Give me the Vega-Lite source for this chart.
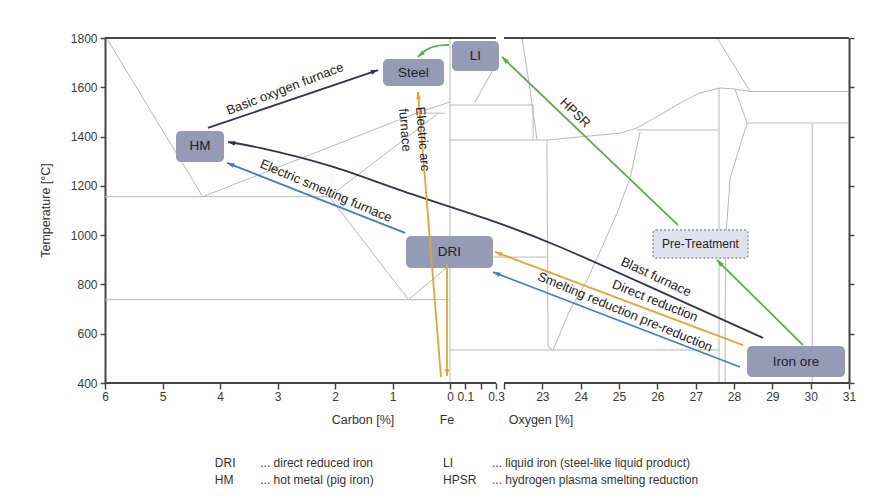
{
  "$schema": "https://vega.github.io/schema/vega-lite/v6.json",
  "width": 744,
  "height": 345,
  "autosize": "none",
  "padding": {"left": 105, "top": 38, "right": 33, "bottom": 115},
  "background": "white",
  "config": {
    "view": {"stroke": null},
    "font": "Liberation Sans",
    "text": {"font": "Liberation Sans"}
  },
  "datasets": {
    "phase": [
      {"id": "p1", "o": 0, "x": -5.96, "T": 1795}, {"id": "p1", "o": 1, "x": -4.3, "T": 1156},
      {"id": "p2", "o": 0, "x": -6, "T": 1156}, {"id": "p2", "o": 1, "x": -2.1, "T": 1156},
      {"id": "p3", "o": 0, "x": -4.3, "T": 1156}, {"id": "p3", "o": 1, "x": -0.53, "T": 1500}, {"id": "p3", "o": 2, "x": 0, "T": 1540},
      {"id": "p4", "o": 0, "x": -2.1, "T": 1156}, {"id": "p4", "o": 1, "x": -0.2, "T": 1495},
      {"id": "p5", "o": 0, "x": -0.53, "T": 1495}, {"id": "p5", "o": 1, "x": -0.09, "T": 1495},
      {"id": "p6", "o": 0, "x": -2.1, "T": 1156}, {"id": "p6", "o": 1, "x": -0.72, "T": 738},
      {"id": "p7", "o": 0, "x": -0.72, "T": 738}, {"id": "p7", "o": 1, "x": 0, "T": 880},
      {"id": "p8", "o": 0, "x": -6, "T": 738}, {"id": "p8", "o": 1, "x": -0.02, "T": 738},
      {"id": "p9", "o": 0, "x": 0, "T": 400}, {"id": "p9", "o": 1, "x": 0, "T": 1800},
      {"id": "q1", "o": 0, "x": 0, "T": 911}, {"id": "q1", "o": 1, "x": 2.12, "T": 911},
      {"id": "q2", "o": 0, "x": 0, "T": 534}, {"id": "q2", "o": 1, "x": 6.63, "T": 534},
      {"id": "q3", "o": 0, "x": 2.12, "T": 1386}, {"id": "q3", "o": 1, "x": 2.15, "T": 546}, {"id": "q3", "o": 2, "x": 2.28, "T": 534},
      {"id": "q4", "o": 0, "x": 2.28, "T": 534}, {"id": "q4", "o": 1, "x": 2.72, "T": 696}, {"id": "q4", "o": 2, "x": 3.17, "T": 818}, {"id": "q4", "o": 3, "x": 3.58, "T": 960}, {"id": "q4", "o": 4, "x": 3.95, "T": 1090}, {"id": "q4", "o": 5, "x": 4.29, "T": 1232}, {"id": "q4", "o": 6, "x": 4.55, "T": 1419},
      {"id": "q5", "o": 0, "x": 0, "T": 1386}, {"id": "q5", "o": 1, "x": 2.12, "T": 1386}, {"id": "q5", "o": 2, "x": 4.03, "T": 1414}, {"id": "q5", "o": 3, "x": 4.47, "T": 1435}, {"id": "q5", "o": 4, "x": 5.07, "T": 1488}, {"id": "q5", "o": 5, "x": 5.59, "T": 1536}, {"id": "q5", "o": 6, "x": 6.11, "T": 1577}, {"id": "q5", "o": 7, "x": 6.63, "T": 1597}, {"id": "q5", "o": 8, "x": 7.03, "T": 1593}, {"id": "q5", "o": 9, "x": 7.42, "T": 1583},
      {"id": "q6", "o": 0, "x": 4.47, "T": 1427}, {"id": "q6", "o": 1, "x": 6.58, "T": 1427},
      {"id": "q7", "o": 0, "x": 6.61, "T": 400}, {"id": "q7", "o": 1, "x": 6.61, "T": 1597},
      {"id": "q8", "o": 0, "x": 7.03, "T": 1590}, {"id": "q8", "o": 1, "x": 7.34, "T": 1455}, {"id": "q8", "o": 2, "x": 6.9, "T": 1232}, {"id": "q8", "o": 3, "x": 6.8, "T": 1021}, {"id": "q8", "o": 4, "x": 6.77, "T": 737}, {"id": "q8", "o": 5, "x": 6.77, "T": 400},
      {"id": "q9", "o": 0, "x": 7.42, "T": 1583}, {"id": "q9", "o": 1, "x": 10, "T": 1583},
      {"id": "q10", "o": 0, "x": 7.34, "T": 1455}, {"id": "q10", "o": 1, "x": 10, "T": 1455},
      {"id": "q11", "o": 0, "x": 9.04, "T": 400}, {"id": "q11", "o": 1, "x": 9.04, "T": 1455},
      {"id": "q12", "o": 0, "x": 6.56, "T": 1800}, {"id": "q12", "o": 1, "x": 7.42, "T": 1583},
      {"id": "q13", "o": 0, "x": 1.47, "T": 1800}, {"id": "q13", "o": 1, "x": 1.68, "T": 1589}, {"id": "q13", "o": 2, "x": 1.86, "T": 1386},
      {"id": "q14", "o": 0, "x": 0, "T": 1528}, {"id": "q14", "o": 1, "x": 1.76, "T": 1528}, {"id": "q14", "o": 2, "x": 1.76, "T": 1386},
      {"id": "q15", "o": 0, "x": 0.16, "T": 1536}, {"id": "q15", "o": 1, "x": 0.28, "T": 1670}
    ],
    "frame": [
      {"x": -6, "x2": 0.3, "T": 1800}, {"x": 1, "x2": 10, "T": 1800},
      {"x": -6, "x2": 0.3, "T": 400}, {"x": 1, "x2": 10, "T": 400}
    ],
    "boxes": [
      {"name": "HM", "x": -4.765, "x2": -3.93, "T": 1423, "T2": 1297, "cx": -4.348, "cT": 1360, "style": "solid"},
      {"name": "Steel", "x": -1.165, "x2": -0.104, "T": 1715, "T2": 1605, "cx": -0.635, "cT": 1660, "style": "solid"},
      {"name": "LI", "x": 0.013, "x2": 0.5625, "T": 1788, "T2": 1666, "cx": 0.166, "cT": 1727, "style": "solid"},
      {"name": "DRI", "x": -0.765, "x2": 0.2804, "T": 997, "T2": 867, "cx": -0.009, "cT": 932, "style": "solid"},
      {"name": "Iron ore", "x": 7.34, "x2": 9.896, "T": 550, "T2": 424, "cx": 8.618, "cT": 487, "style": "solid"},
      {"name": "Pre-Treatment", "x": 4.887, "x2": 7.366, "T": 1021, "T2": 907, "cx": 6.126, "cT": 964, "style": "dashed"}
    ],
    "arrows": [
      {"id": "bof", "kind": "BF-BOF", "o": 0, "x": -4.209, "T": 1435}, {"id": "bof", "kind": "BF-BOF", "o": 1, "x": -1.252, "T": 1670},
      {"id": "bf", "kind": "BF-BOF", "o": 0, "x": -3.861, "T": 1378}, {"id": "bf", "kind": "BF-BOF", "o": 1, "x": -3.304, "T": 1354}, {"id": "bf", "kind": "BF-BOF", "o": 2, "x": -2.087, "T": 1281}, {"id": "bf", "kind": "BF-BOF", "o": 3, "x": -0.87, "T": 1183}, {"id": "bf", "kind": "BF-BOF", "o": 4, "x": 0.261, "T": 1061}, {"id": "bf", "kind": "BF-BOF", "o": 5, "x": 2.461, "T": 952}, {"id": "bf", "kind": "BF-BOF", "o": 6, "x": 4.809, "T": 790}, {"id": "bf", "kind": "BF-BOF", "o": 7, "x": 7.757, "T": 583},
      {"id": "dr", "kind": "DR-EAF", "o": 0, "x": 0.2935, "T": 932}, {"id": "dr", "kind": "DR-EAF", "o": 1, "x": 7.235, "T": 554},
      {"id": "sr", "kind": "SR-ESF", "o": 0, "x": 0.2804, "T": 850}, {"id": "sr", "kind": "SR-ESF", "o": 1, "x": 7.157, "T": 465},
      {"id": "esf", "kind": "SR-ESF", "o": 0, "x": -3.878, "T": 1293}, {"id": "esf", "kind": "SR-ESF", "o": 1, "x": -0.783, "T": 1009},
      {"id": "eafA", "kind": "DR-EAF", "o": 0, "x": -0.052, "T": 887}, {"id": "eafA", "kind": "DR-EAF", "o": 1, "x": -0.052, "T": 428},
      {"id": "eafB", "kind": "DR-EAF", "o": 0, "x": -0.157, "T": 424}, {"id": "eafB", "kind": "DR-EAF", "o": 1, "x": -0.557, "T": 1581},
      {"id": "hpsr", "kind": "HPSR", "o": 0, "x": 0.825, "T": 1723}, {"id": "hpsr", "kind": "HPSR", "o": 1, "x": 5.54, "T": 1041},
      {"id": "pre", "kind": "HPSR", "o": 0, "x": 6.557, "T": 899}, {"id": "pre", "kind": "HPSR", "o": 1, "x": 8.801, "T": 554},
      {"id": "li", "kind": "HPSR", "o": 0, "x": -0.017, "T": 1772}, {"id": "li", "kind": "HPSR", "o": 1, "x": -0.226, "T": 1768}, {"id": "li", "kind": "HPSR", "o": 2, "x": -0.417, "T": 1751}, {"id": "li", "kind": "HPSR", "o": 3, "x": -0.557, "T": 1723}
    ],
    "heads": [
      {"kind": "BF-BOF", "x": -1.252, "T": 1670, "dir": 71},
      {"kind": "BF-BOF", "x": -3.861, "T": 1378, "dir": 281},
      {"kind": "DR-EAF", "x": 0.2935, "T": 932, "dir": 291},
      {"kind": "SR-ESF", "x": 0.2804, "T": 850, "dir": 291},
      {"kind": "SR-ESF", "x": -3.878, "T": 1293, "dir": 291.5},
      {"kind": "DR-EAF", "x": -0.052, "T": 428, "dir": 180},
      {"kind": "DR-EAF", "x": -0.557, "T": 1581, "dir": 355.4},
      {"kind": "HPSR", "x": 0.825, "T": 1723, "dir": 314},
      {"kind": "HPSR", "x": 6.557, "T": 899, "dir": 315},
      {"kind": "HPSR", "x": -0.557, "T": 1723, "dir": 229}
    ],
    "notes": [
      {"t": "Basic oxygen furnace", "x": -2.87, "T": 1593, "dir": -21},
      {"t": "Blast furnace", "x": 4.966, "T": 830, "dir": 25},
      {"t": "Direct reduction", "x": 4.94, "T": 733, "dir": 22},
      {"t": "Smelting reduction pre-reduction", "x": 4.157, "T": 688, "dir": 22.5},
      {"t": "Electric smelting furnace", "x": -2.157, "T": 1179, "dir": 23},
      {"t": "HPSR", "x": 2.852, "T": 1496, "dir": 44}
    ],
    "eaf": [
      {"t": "Electric arc\nfurnace", "x": -0.522, "T": 1520}
    ],
    "titles": [
      {"t": "Carbon [%]", "x": -1.513, "T": 250},
      {"t": "Fe", "x": -0.052, "T": 250},
      {"t": "Oxygen [%]", "x": 1.965, "T": 250}
    ],
    "legend": [
      {"t": "DRI", "x": -4.09, "T": 75},
      {"t": "... direct reduced iron", "x": -3.3, "T": 75},
      {"t": "LI", "x": -0.12, "T": 75},
      {"t": "... liquid iron (steel-like liquid product)", "x": 0.274, "T": 75},
      {"t": "HM", "x": -4.09, "T": 6},
      {"t": "... hot metal (pig iron)", "x": -3.3, "T": 6},
      {"t": "HPSR", "x": -0.12, "T": 6},
      {"t": "... hydrogen plasma smelting reduction", "x": 0.274, "T": 6}
    ]
  },
  "layer": [
    {
      "data": {"name": "phase"},
      "mark": {"type": "line", "stroke": "#b8b8b8", "strokeWidth": 1},
      "encoding": {
        "x": {
          "field": "x", "type": "quantitative",
          "scale": {"domain": [-6, 0, 0.3, 1, 10], "range": [0, 345, 391, 399, 744], "nice": false, "zero": false},
          "axis": {
            "title": null, "domain": false, "grid": false,
            "values": [-6, -5, -4, -3, -2, -1, 0, 0.1, 0.2, 0.3, 1, 2, 3, 4, 5, 6, 7, 8, 9, 10],
            "labelExpr": "datum.value < 0 ? format(-datum.value, 'd') : datum.value == 0 ? '0' : datum.value < 0.15 ? '0.1' : datum.value < 0.25 ? '' : datum.value < 0.5 ? '0.3' : datum.value < 1.5 ? '' : format(datum.value + 21, 'd')",
            "labelOverlap": false, "labelFlush": false,
            "tickSize": 6, "tickWidth": 1.5, "tickColor": "#444",
            "labelFontSize": 12, "labelColor": "#3a3a3a", "labelPadding": 2
          }
        },
        "y": {
          "field": "T", "type": "quantitative",
          "scale": {"domain": [400, 1800], "nice": false, "zero": false},
          "axis": {
            "title": "Temperature [°C]", "titleX": -60, "titleY": 172, "titleAlign": "center", "titleBaseline": "middle",
            "titleFontSize": 12.5, "titleFontWeight": "normal", "titleColor": "#333",
            "values": [400, 600, 800, 1000, 1200, 1400, 1600, 1800], "format": "d",
            "grid": false, "domainWidth": 2, "domainColor": "#444",
            "tickSize": 5, "tickWidth": 1.5, "tickColor": "#444",
            "labelFontSize": 12, "labelColor": "#3a3a3a", "labelPadding": 3
          }
        },
        "detail": {"field": "id"},
        "order": {"field": "o"}
      }
    },
    {
      "data": {"name": "frame"},
      "mark": {"type": "rule", "stroke": "#444", "strokeWidth": 2},
      "encoding": {
        "x": {"field": "x", "type": "quantitative", "axis": null},
        "x2": {"field": "x2"},
        "y": {
          "field": "T", "type": "quantitative",
          "axis": {
            "orient": "right", "title": null, "labels": false, "grid": false,
            "values": [400, 600, 800, 1000, 1200, 1400, 1600, 1800],
            "domainWidth": 2, "domainColor": "#444", "tickSize": 5, "tickWidth": 1.5, "tickColor": "#444"
          }
        }
      }
    },
    {
      "data": {"name": "boxes"},
      "transform": [{"filter": "datum.style == 'solid'"}],
      "mark": {"type": "rect", "fill": "#939cb4", "cornerRadius": 5},
      "encoding": {
        "x": {"field": "x", "type": "quantitative", "axis": null},
        "x2": {"field": "x2"},
        "y": {"field": "T", "type": "quantitative", "axis": null},
        "y2": {"field": "T2"}
      }
    },
    {
      "data": {"name": "boxes"},
      "transform": [{"filter": "datum.style == 'dashed'"}],
      "mark": {"type": "rect", "fill": "#dfe2ea", "stroke": "#7c839d", "strokeWidth": 1.2, "strokeDash": [2, 2], "cornerRadius": 3},
      "encoding": {
        "x": {"field": "x", "type": "quantitative", "axis": null},
        "x2": {"field": "x2"},
        "y": {"field": "T", "type": "quantitative", "axis": null},
        "y2": {"field": "T2"}
      }
    },
    {
      "data": {"name": "arrows"},
      "mark": {"type": "line", "strokeWidth": 1.8, "interpolate": "natural"},
      "encoding": {
        "x": {"field": "x", "type": "quantitative", "axis": null},
        "y": {"field": "T", "type": "quantitative", "axis": null},
        "detail": {"field": "id"},
        "order": {"field": "o"},
        "color": {"field": "kind", "type": "nominal", "legend": null,
          "scale": {"domain": ["BF-BOF", "DR-EAF", "SR-ESF", "HPSR"], "range": ["#2e3550", "#e6a430", "#3f7fd0", "#55b043"]}}
      }
    },
    {
      "data": {"name": "heads"},
      "mark": {"type": "point", "shape": "M0,0L-0.8,2.4L0.8,2.4Z", "filled": true, "opacity": 1, "size": 36},
      "encoding": {
        "x": {"field": "x", "type": "quantitative", "axis": null},
        "y": {"field": "T", "type": "quantitative", "axis": null},
        "angle": {"field": "dir", "type": "quantitative", "scale": null},
        "color": {"field": "kind", "type": "nominal", "legend": null}
      }
    },
    {
      "data": {"name": "notes"},
      "mark": {"type": "text", "fontSize": 13, "color": "#222", "align": "center", "baseline": "middle"},
      "encoding": {
        "x": {"field": "x", "type": "quantitative", "axis": null},
        "y": {"field": "T", "type": "quantitative", "axis": null},
        "angle": {"field": "dir", "type": "quantitative", "scale": null},
        "text": {"field": "t"}
      }
    },
    {
      "data": {"name": "eaf"},
      "mark": {"type": "text", "fontSize": 13, "color": "#222", "align": "left", "baseline": "middle", "angle": 85.4, "lineBreak": "\n", "lineHeight": 17},
      "encoding": {
        "x": {"field": "x", "type": "quantitative", "axis": null},
        "y": {"field": "T", "type": "quantitative", "axis": null},
        "text": {"field": "t"}
      }
    },
    {
      "data": {"name": "boxes"},
      "mark": {"type": "text", "fontSize": 13.5, "color": "#1e1e1e", "align": "center", "baseline": "middle"},
      "encoding": {
        "x": {"field": "cx", "type": "quantitative", "axis": null},
        "y": {"field": "cT", "type": "quantitative", "axis": null},
        "text": {"field": "name"},
        "size": {"condition": {"test": "datum.style == 'dashed'", "value": 12}, "value": 13.5}
      }
    },
    {
      "data": {"name": "titles"},
      "mark": {"type": "text", "fontSize": 12.5, "color": "#333", "align": "center", "baseline": "middle"},
      "encoding": {
        "x": {"field": "x", "type": "quantitative", "axis": null},
        "y": {"field": "T", "type": "quantitative", "axis": null},
        "text": {"field": "t"}
      }
    },
    {
      "data": {"name": "legend"},
      "mark": {"type": "text", "fontSize": 12, "color": "#333", "align": "left", "baseline": "middle"},
      "encoding": {
        "x": {"field": "x", "type": "quantitative", "axis": null},
        "y": {"field": "T", "type": "quantitative", "axis": null},
        "text": {"field": "t"}
      }
    }
  ],
  "resolve": {"axis": {"x": "independent", "y": "independent"}}
}
